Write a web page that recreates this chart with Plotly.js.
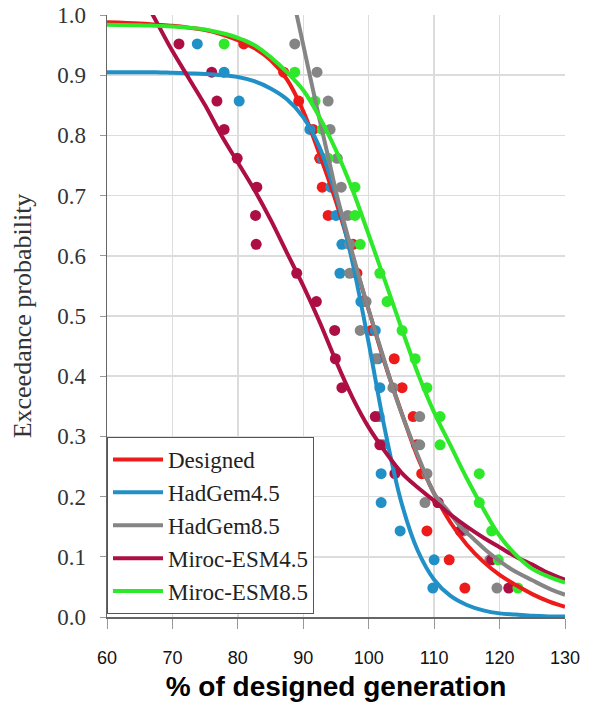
<!DOCTYPE html>
<html>
<head>
<meta charset="utf-8">
<script src="https://cdn.plot.ly/plotly-3.0.1.min.js"></script>
<style>html,body{margin:0;padding:0;background:#fff;}#chart{width:590px;height:710px;}</style>
</head>
<body>
<div id="chart"></div>
<script>
// ---- Data ----
const seriesNames = ["Designed", "HadGem4.5", "HadGem8.5", "Miroc-ESM4.5", "Miroc-ESM8.5"];
const seriesColors = ["#ee1b1b", "#2190c6", "#858585", "#ad0f45", "#2ee82a"];

// exceedance probabilities of the observed points (same for every series)
const pointProb = [0.952, 0.905, 0.857, 0.810, 0.762, 0.714, 0.667, 0.619, 0.571, 0.524,
                   0.476, 0.429, 0.381, 0.333, 0.286, 0.238, 0.190, 0.143, 0.095, 0.048];

// observed points: % of designed generation
const designedPts   = [80.9, 87.0, 89.3, 91.5, 92.5, 92.9, 93.8, 97.6, 98.2, 99.2,
                       100.4, 103.9, 105.1, 106.8, 107.3, 108.1, 110.6, 108.9, 112.3, 114.7];
const hadgem45Pts   = [73.8, 77.9, 80.2, 91.0, 92.9, 94.2, 95.0, 95.9, 95.6, 98.8,
                       101.0, 101.4, 101.7, 101.6, 102.2, 101.9, 101.9, 104.8, 110.0, 109.8];
const hadgem85Pts   = [88.7, 92.1, 93.8, 94.1, 95.2, 95.8, 96.8, 97.1, 97.1, 99.6,
                       98.7, 101.0, 103.7, 107.8, 107.8, 108.9, 108.6, 114.5, 118.5, 119.6];
const miroc45Pts    = [71.0, 76.0, 76.8, 77.9, 79.9, 82.9, 82.7, 82.8, 89.0, 92.0,
                       94.8, 94.9, 95.9, 101.0, 101.7, 104.0, 110.6, 114.0, 118.8, 121.4];
const miroc85Pts    = [77.9, 88.7, 91.8, 92.9, 93.8, 97.9, 97.9, 98.7, 101.7, 102.8,
                       105.1, 107.1, 108.9, 110.9, 110.9, 116.9, 116.9, 118.8, 119.8, 122.8];

// fitted curves, read along the x axis
const curveX = [60, 65, 67.5, 70, 72.5, 75, 77.5, 80, 82.5, 85, 87.5, 90, 92.5, 95, 97.5, 100,
                102.5, 105, 107.5, 110, 112.5, 115, 117.5, 120, 122.5, 125, 127.5, 130];
const designedFit = [0.988, 0.986, 0.984, 0.982, 0.979, 0.975, 0.968, 0.958, 0.945, 0.925, 0.893, 0.840, 0.768, 0.690, 0.600, 0.510,
                     0.420, 0.340, 0.265, 0.205, 0.157, 0.120, 0.092, 0.070, 0.053, 0.038, 0.026, 0.017];
const hadgem45Fit = [0.905, 0.905, 0.905, 0.904, 0.903, 0.902, 0.900, 0.897, 0.890, 0.878, 0.860, 0.830, 0.780, 0.700, 0.590, 0.455,
                     0.310, 0.190, 0.110, 0.062, 0.035, 0.020, 0.011, 0.006, 0.004, 0.002, 0.001, 0.001];
const miroc45Fit  = [null, 1.04, 0.99, 0.94, 0.895, 0.85, 0.80, 0.755, 0.71, 0.66, 0.605, 0.55, 0.49, 0.425, 0.365, 0.315,
                     0.275, 0.240, 0.215, 0.193, 0.170, 0.150, 0.132, 0.116, 0.100, 0.087, 0.073, 0.062];
const miroc85Fit  = [0.984, 0.983, 0.982, 0.981, 0.979, 0.976, 0.970, 0.962, 0.950, 0.930, 0.905, 0.875, 0.830, 0.775, 0.710, 0.635,
                     0.558, 0.480, 0.405, 0.340, 0.285, 0.230, 0.180, 0.135, 0.103, 0.080, 0.067, 0.057];
const hadgem85X   = [88, 89, 90, 92, 94, 95.3, 96, 98, 100, 102, 104, 106, 108, 110, 112, 114, 116, 118, 120, 122, 125, 128, 130];
const hadgem85Fit = [1.05, 1.0, 0.95, 0.85, 0.755, 0.693, 0.665, 0.585, 0.51, 0.44, 0.37, 0.31, 0.255, 0.205, 0.178, 0.150, 0.130, 0.110, 0.093, 0.078, 0.061, 0.045, 0.037];

const xTicks = [60, 70, 80, 90, 100, 110, 120, 130];
const yTicks = [0, 0.1, 0.2, 0.3, 0.4, 0.5, 0.6, 0.7, 0.8, 0.9, 1.0];

// ---- Build traces ----
const ptsList = [designedPts, hadgem45Pts, hadgem85Pts, miroc45Pts, miroc85Pts];
const fitX = [curveX, curveX, hadgem85X, curveX, curveX];
const fitY = [designedFit, hadgem45Fit, hadgem85Fit, miroc45Fit, miroc85Fit];

const traces = [];
for (let i = 0; i < seriesNames.length; i++) {
  traces.push({
    x: ptsList[i], y: pointProb, type: 'scatter', mode: 'markers',
    marker: {color: seriesColors[i], size: 11}, showlegend: false, hoverinfo: 'skip',
    cliponaxis: true
  });
}
for (let i = 0; i < seriesNames.length; i++) {
  traces.push({
    x: fitX[i], y: fitY[i], type: 'scatter', mode: 'lines', name: seriesNames[i],
    line: {color: seriesColors[i], width: 4, shape: 'spline', smoothing: 1},
    legendgroup: 'g' + i, connectgaps: false
  });
}

const serif = '"Liberation Serif", "Times New Roman", serif';
const sans = '"Liberation Sans", Arial, sans-serif';

const layout = {
  width: 590, height: 710,
  margin: {l: 107, r: 25, t: 15, b: 93},
  paper_bgcolor: '#fff', plot_bgcolor: '#fff',
  showlegend: true,
  xaxis: {
    range: [60, 130], tickvals: xTicks, ticktext: xTicks.map(String),
    showgrid: true, gridcolor: '#dcdcdc', gridwidth: 1.5,
    zeroline: false, showline: true, linecolor: '#666', linewidth: 1.5,
    ticks: 'outside', ticklen: 10, tickcolor: '#999', tickwidth: 1,
    ticklabelstandoff: 14,
    tickfont: {family: sans, size: 18, color: '#111'},
    title: {text: '<b>% of designed generation</b>', font: {family: sans, size: 28, color: '#000'}, standoff: 9}
  },
  yaxis: {
    range: [0, 1.0], tickvals: yTicks, tickformat: '.1f',
    showgrid: true, gridcolor: '#dcdcdc', gridwidth: 1.5,
    zeroline: false, showline: true, linecolor: '#666', linewidth: 1.5,
    ticks: 'outside', ticklen: 6, tickcolor: '#999', tickwidth: 1,
    ticklabelstandoff: 9,
    tickfont: {family: serif, size: 23, color: '#333'},
    title: {text: 'Exceedance probability', font: {family: serif, size: 26, color: '#333'}, standoff: 18}
  },
  legend: {
    x: 0, y: 0.299, xanchor: 'left', yanchor: 'top',
    bgcolor: '#fff', bordercolor: '#555', borderwidth: 1,
    font: {family: serif, size: 23, color: '#222'},
    traceorder: 'grouped', tracegroupgap: 0, itemwidth: 50
  }
};

Plotly.newPlot('chart', traces, layout, {displayModeBar: false, staticPlot: true});
</script>
</body>
</html>
